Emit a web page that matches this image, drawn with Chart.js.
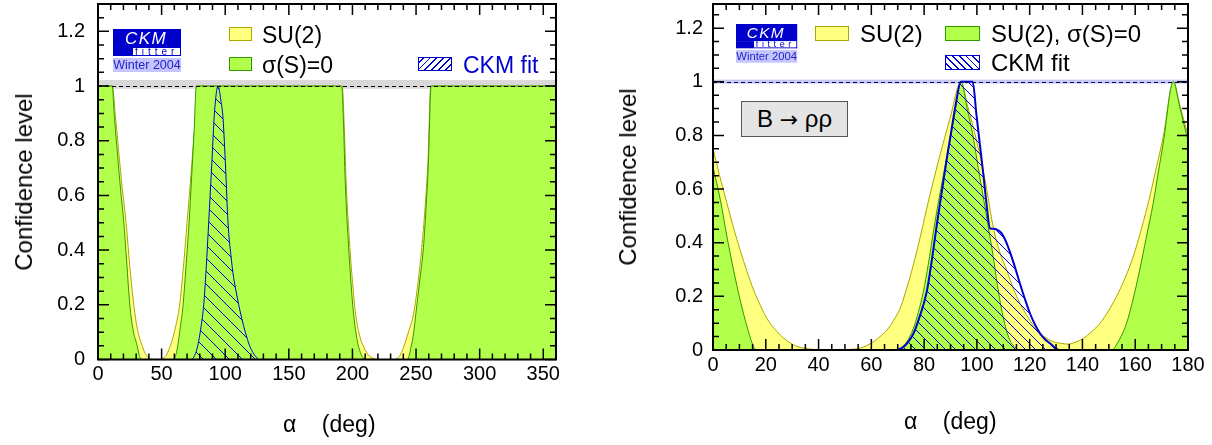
<!DOCTYPE html>
<html>
<head>
<meta charset="utf-8">
<script src="https://cdn.jsdelivr.net/npm/chart.js@4.4.1/dist/chart.umd.min.js"></script>
<style>
  body { margin: 0; background: #fff; font-family: "Liberation Sans", Arial, sans-serif; }
  #page { position: relative; width: 1212px; height: 445px; overflow: hidden; }
  canvas { position: absolute; top: 0; }
  .txt { position: absolute; white-space: pre; color: #000; line-height: 1; }
  .ytitle { position: absolute; font-size: 24px; white-space: nowrap; transform: translate(-50%, -50%) rotate(-90deg); }
  .sw { position: absolute; box-sizing: border-box; border-width: 1.5px; border-style: solid; }
  .yel { background: #ffff80; border-color: #a8a800; }
  .grn { background: #b2ff4c; border-color: #2f9900; }
  .hat { border-color: #0000cc; }
  .logo { position: absolute; width: 68px; transform-origin: 0 0; }
  .logo .ckm { height: 19px; background: #0000cc; color: #fff; font-style: italic; font-size: 17px; line-height: 20px; letter-spacing: 1.5px; padding-left: 12px; box-sizing: border-box; }
  .logo .fit { height: 8px; display: flex; }
  .logo .fit .fl { width: 20px; background: #0000cc; }
  .logo .fit .fr { flex: 1; box-sizing: border-box; border-right: 1.5px solid #0000cc; border-bottom: 1.5px solid #0000cc; color: #0000cc; font-size: 10px; line-height: 8px; letter-spacing: 4px; padding-left: 2px; white-space: nowrap; overflow: visible; }
  .logo .win { margin-top: 2px; height: 14px; background: #c4c4ff; color: #2424c8; font-size: 12.5px; line-height: 14px; text-align: center; }
  #rhoBox { position: absolute; left: 741px; top: 101px; width: 107px; height: 36px; box-sizing: border-box; background: #e4e4e4; border: 1.5px solid #555; font-size: 24px; line-height: 33px; text-align: center; }
  #rhoBox .arr { font-family: "DejaVu Sans", sans-serif; font-size: 22px; }
</style>
</head>
<body>
<div id="page">
  <canvas id="alphaAll" width="600" height="445" style="left:0"></canvas>
  <canvas id="alphaRhoRho" width="606" height="445" style="left:606px"></canvas>

  <!-- left panel decorations -->
  <div class="ytitle" style="left:24px; top:182px">Confidence level</div>
  <div class="txt" style="left:283px; top:413px; font-size:23px">α    (deg)</div>
  <div class="logo" style="left:113px; top:29px">
    <div class="ckm">CKM</div>
    <div class="fit"><div class="fl"></div><div class="fr">fitter</div></div>
    <div class="win">Winter 2004</div>
  </div>
  <div class="sw yel" style="left:229px; top:27px; width:23px; height:14px"></div>
  <div class="txt" style="left:262px; top:24px; font-size:23px">SU(2)</div>
  <div class="sw grn" style="left:229px; top:57px; width:23px; height:14px"></div>
  <div class="txt" style="left:262px; top:54px; font-size:23px">σ(S)=0</div>
  <div class="sw hat" style="left:418px; top:57px; width:34px; height:14px; background: repeating-linear-gradient(-45deg, #fff 0 3.5px, #0000cc 3.5px 4.8px)"></div>
  <div class="txt" style="left:463px; top:54px; font-size:23px; color:#0000cc">CKM fit</div>

  <!-- right panel decorations -->
  <div class="ytitle" style="left:628px; top:177px">Confidence level</div>
  <div class="txt" style="left:904px; top:410px; font-size:23px">α    (deg)</div>
  <div class="logo" style="left:736px; top:24px; transform: scale(0.9)">
    <div class="ckm">CKM</div>
    <div class="fit"><div class="fl"></div><div class="fr">fitter</div></div>
    <div class="win">Winter 2004</div>
  </div>
  <div class="sw yel" style="left:815px; top:26px; width:34px; height:15px"></div>
  <div class="txt" style="left:860px; top:22px; font-size:24px">SU(2)</div>
  <div class="sw grn" style="left:945px; top:26px; width:35px; height:15px"></div>
  <div class="txt" style="left:991px; top:22px; font-size:24px">SU(2), σ(S)=0</div>
  <div class="sw hat" style="left:945px; top:55px; width:35px; height:15px; background: repeating-linear-gradient(45deg, #fff 0 3.5px, #0000cc 3.5px 4.8px)"></div>
  <div class="txt" style="left:991px; top:51px; font-size:24px">CKM fit</div>
  <div id="rhoBox">B <span class="arr">→</span> ρρ</div>
</div>

<script>
// ---- left panel: alpha from all modes (0..360 deg) ----
var alphaSuL = [0, 11.3, 13.5, 16.3, 19.2, 22.1, 25, 28.1, 31, 34.7, 38, 41.2, 45.5, 48, 50.4, 53.5, 56.9, 60.5, 64.2, 67, 70, 73, 75.8, 78.4,
                192, 193.5, 195, 198, 200.3, 202.5, 205.5, 209, 213.5, 218, 222, 233, 235.5, 238, 240.1, 244, 248, 251.5, 254.5, 257, 259.3, 261.6, 360];
var clSuL    = [1, 1, 0.9, 0.76, 0.62, 0.5, 0.34, 0.2, 0.11, 0.05, 0.015, 0.002, 0, 0, 0.002, 0.015, 0.05, 0.11, 0.2, 0.33, 0.5, 0.67, 0.84, 1,
                1, 0.86, 0.655, 0.41, 0.27, 0.166, 0.09, 0.044, 0.012, 0.002, 0, 0, 0.005, 0.02, 0.044, 0.1, 0.166, 0.28, 0.41, 0.55, 0.72, 1, 1];

var alphaSigL = [0, 11.1, 13, 15.5, 18, 20.3, 22.5, 25, 27.5, 30.8, 32.2, 33.4, 35, 59.5, 60.8, 62.7, 64.5, 66.9, 69, 71.6, 73.5, 75.5, 77.3,
                 191.5, 193, 194.3, 197, 199, 200.9, 203, 205, 207.5, 210, 243, 244.3, 246, 248.2, 249.8, 252.7, 255.8, 257.8, 259.7, 261.8, 360];
var clSigL    = [1, 1, 0.88, 0.74, 0.61, 0.5, 0.36, 0.2, 0.11, 0.05, 0.02, 0.004, 0, 0, 0.01, 0.05, 0.11, 0.2, 0.33, 0.5, 0.66, 0.83, 1,
                 1, 0.86, 0.655, 0.41, 0.27, 0.166, 0.09, 0.044, 0.012, 0, 0, 0.01, 0.044, 0.1, 0.166, 0.28, 0.41, 0.55, 0.72, 1, 1];

var alphaFitL = [74, 76, 78.4, 81, 83.1, 85, 87, 89.5, 91.5, 94.4, 96.5, 98.3, 100.3, 102.2, 104.5, 106.6, 108.5, 110.6, 113, 115.8, 119.2, 122.5, 126.3];
var clFitL    = [0, 0.015, 0.05, 0.12, 0.2, 0.33, 0.5, 0.72, 0.9, 1, 0.95, 0.88, 0.7, 0.5, 0.38, 0.3, 0.25, 0.2, 0.15, 0.1, 0.05, 0.02, 0];

// ---- right panel: B -> rho rho (0..180 deg) ----
var alphaSuR = [0, 2.5, 5.3, 7.8, 10.3, 12.8, 15.4, 18, 20.4, 23, 25.5, 28, 30.5, 33, 35.6, 40, 45, 50, 53, 55.8, 58.3, 60.8, 63.3, 65.9, 68.4,
                70.9, 73.4, 75.9, 78.5, 81, 83.5, 86, 89.8, 94, 96.5, 99.9, 103.1, 106.2, 108.5, 111.3, 113.8, 116.3, 119.5, 122.6, 125.8,
                128.9, 131.8, 134.6, 137.5, 140.3, 143.5, 146.6, 149.8, 152.9, 156, 159.2, 162.3, 165.5, 168, 170.6, 174.5, 177, 180];
var clSuR    = [0.751, 0.65, 0.546, 0.455, 0.372, 0.295, 0.223, 0.165, 0.118, 0.083, 0.056, 0.035, 0.019, 0.01, 0.005, 0.001, 0, 0.001, 0.003, 0.007, 0.017, 0.031, 0.05, 0.074, 0.11,
                0.155, 0.23, 0.317, 0.42, 0.528, 0.63, 0.726, 0.863, 1, 0.91, 0.78, 0.633, 0.458, 0.37, 0.298, 0.23, 0.174, 0.12, 0.074, 0.048,
                0.031, 0.025, 0.022, 0.03, 0.043, 0.068, 0.099, 0.145, 0.199, 0.265, 0.347, 0.45, 0.571, 0.68, 0.794, 1, 0.91, 0.8];

var alphaSigR = [0, 2.8, 5.3, 7.8, 10.3, 12.9, 15.4, 16.5, 69.5, 70.9, 73.4, 75.9, 77.8, 79.7, 81.6, 83.5, 85.4, 87.3, 89.2, 91.1, 94,
                 96.3, 98.6, 100.5, 102.4, 104.3, 106.2, 107.8, 109.4, 111, 112.5, 114.4, 116.3, 151, 153.5, 156.7, 159.2, 161.7, 164.2,
                 166.8, 168.7, 170.6, 174.4, 177, 180];
var clSigR    = [0.683, 0.559, 0.422, 0.298, 0.186, 0.087, 0.012, 0, 0, 0.006, 0.03, 0.08, 0.14, 0.217, 0.32, 0.44, 0.55, 0.652, 0.75, 0.85, 1,
                 0.9, 0.794, 0.68, 0.571, 0.46, 0.347, 0.24, 0.149, 0.08, 0.037, 0.01, 0, 0, 0.03, 0.099, 0.19, 0.298, 0.42,
                 0.546, 0.66, 0.77, 1, 0.9, 0.78];

var alphaFitR = [69.6, 72, 74, 75.9, 78.5, 81, 83, 84.8, 86.7, 88.6, 90.2, 91.7, 94, 98.4, 99.8, 101.2, 102.5, 103.7, 105, 106.2, 107.8,
                 109.4, 111, 112.5, 114.4, 116.3, 118.2, 120.1, 122, 123.9, 125.8, 127.7, 129.6, 131];
var clFitR    = [0, 0.01, 0.03, 0.06, 0.13, 0.217, 0.34, 0.466, 0.59, 0.714, 0.81, 0.9, 1, 1, 0.88, 0.76, 0.65, 0.54, 0.453, 0.452, 0.448,
                 0.435, 0.405, 0.366, 0.31, 0.248, 0.19, 0.137, 0.095, 0.062, 0.04, 0.025, 0.008, 0];

// tick labels
var xTicksL = [0, 50, 100, 150, 200, 250, 300, 350];
var xTicksR = [0, 20, 40, 60, 80, 100, 120, 140, 160, 180];
var yTicks = [0, 0.2, 0.4, 0.6, 0.8, 1, 1.2];

var yellowFill = '#ffff80', yellowLine = '#a8a800';
var greenFill = '#b2ff4c', greenLine = '#2f9900';
var fitBlue = '#0000d0';

function pts(xs, ys) {
  return xs.map(function(x, i) { return { x: x, y: ys[i] }; });
}

function hatch(size, color) {
  var c = document.createElement('canvas');
  c.width = c.height = size;
  var g = c.getContext('2d');
  g.strokeStyle = color;
  g.lineWidth = 1;
  g.beginPath();
  g.moveTo(-1, -1); g.lineTo(size + 1, size + 1);
  g.moveTo(-1, size - 1); g.lineTo(1, size + 1);
  g.moveTo(size - 1, -1); g.lineTo(size + 1, 1);
  g.stroke();
  return g.createPattern(c, 'repeat');
}

// ROOT style frame: band + dashed line at CL=1, inward ticks on all four sides
var rootFrame = {
  id: 'rootFrame',
  beforeDatasetsDraw: function(chart, args, o) {
    var ctx = chart.ctx, a = chart.chartArea, y = chart.scales.y;
    var yHi = y.getPixelForValue(o.band[1]), yLo = y.getPixelForValue(o.band[0]);
    ctx.save();
    ctx.fillStyle = o.bandColor;
    ctx.fillRect(a.left, yHi, a.right - a.left, yLo - yHi);
    ctx.restore();
  },
  afterDatasetsDraw: function(chart, args, o) {
    var ctx = chart.ctx, a = chart.chartArea, x = chart.scales.x, y = chart.scales.y;
    ctx.save();
    var y1 = Math.round(y.getPixelForValue(1)) + 0.5;
    ctx.strokeStyle = o.dashColor;
    ctx.lineWidth = 1;
    ctx.setLineDash([4, 3]);
    ctx.beginPath(); ctx.moveTo(a.left, y1); ctx.lineTo(a.right, y1); ctx.stroke();
    ctx.setLineDash([]);

    ctx.strokeStyle = '#000';
    ctx.lineWidth = 1.5;
    ctx.beginPath();
    var n = Math.round((x.max - x.min) / o.xMinor), i, v, p, len;
    for (i = 0; i <= n; i++) {
      v = x.min + i * o.xMinor;
      p = x.getPixelForValue(v);
      len = (Math.round(v / o.xMinor) % o.xPer === 0) ? 11 : 6;
      ctx.moveTo(p, a.bottom); ctx.lineTo(p, a.bottom - len);
      ctx.moveTo(p, a.top); ctx.lineTo(p, a.top + len);
    }
    n = Math.floor((y.max - y.min) / 0.05 + 1e-6);
    for (i = 0; i <= n; i++) {
      v = i * 0.05;
      p = y.getPixelForValue(v);
      len = (i % 4 === 0) ? 11 : 6;
      ctx.moveTo(a.left, p); ctx.lineTo(a.left + len, p);
      ctx.moveTo(a.right, p); ctx.lineTo(a.right - len, p);
    }
    ctx.stroke();
    ctx.lineWidth = 2;
    ctx.strokeRect(a.left, a.top, a.right - a.left, a.bottom - a.top);
    ctx.restore();
  }
};

function makeChart(id, cfg) {
  var ctx = document.getElementById(id).getContext('2d');
  var tickFont = { family: '"Liberation Sans", Arial, sans-serif', size: 20 };
  return new Chart(ctx, {
    type: 'line',
    data: {
      datasets: [{
        data: pts(cfg.su[0], cfg.su[1]),
        borderColor: yellowLine, backgroundColor: yellowFill, borderWidth: 1,
        fill: 'origin', order: 3
      }, {
        data: pts(cfg.sig[0], cfg.sig[1]),
        borderColor: greenLine, backgroundColor: greenFill, borderWidth: 1,
        fill: 'origin', order: 2
      }, {
        data: pts(cfg.fit[0], cfg.fit[1]),
        borderColor: fitBlue, backgroundColor: hatch(cfg.hatchSize, fitBlue), borderWidth: cfg.fitWidth,
        fill: 'origin', order: 1
      }]
    },
    options: {
      responsive: false,
      animation: false,
      layout: { padding: cfg.padding },
      elements: {
        point: { radius: 0 },
        line: { cubicInterpolationMode: 'monotone' }
      },
      plugins: {
        legend: { display: false },
        tooltip: { enabled: false },
        rootFrame: cfg.frame
      },
      scales: {
        x: {
          type: 'linear', min: 0, max: cfg.xMax,
          grid: { display: false, drawTicks: false },
          border: { display: false },
          afterBuildTicks: function(s) { s.ticks = cfg.xTicks.map(function(v) { return { value: v }; }); },
          afterFit: function(s) { s.height = cfg.xAxisHeight; s.paddingLeft = 0; s.paddingRight = 0; },
          ticks: { color: '#000', font: tickFont, padding: 3, maxRotation: 0, autoSkip: false,
                   callback: function(v) { return String(v); } }
        },
        y: {
          type: 'linear', min: 0, max: cfg.yMax,
          grid: { display: false, drawTicks: false },
          border: { display: false },
          afterBuildTicks: function(s) { s.ticks = yTicks.map(function(v) { return { value: v }; }); },
          afterFit: function(s) { s.width = cfg.yAxisWidth; s.paddingTop = 0; s.paddingBottom = 0; },
          ticks: { color: '#000', font: tickFont, padding: cfg.yPad, autoSkip: false,
                   callback: function(v) { return String(v); } }
        }
      }
    },
    plugins: [rootFrame]
  });
}

makeChart('alphaAll', {
  su: [alphaSuL, clSuL], sig: [alphaSigL, clSigL], fit: [alphaFitL, clFitL],
  xMax: 360, yMax: 1.3, xTicks: xTicksL,
  padding: { top: 4, right: 44, bottom: 0, left: 0 },
  xAxisHeight: 85.5, yAxisWidth: 98, yPad: 13,
  hatchSize: 13, fitWidth: 1,
  frame: { band: [0.99, 1.022], bandColor: '#d9d9d9', dashColor: '#000', xMinor: 10, xPer: 5 }
});

makeChart('alphaRhoRho', {
  su: [alphaSuR, clSuR], sig: [alphaSigR, clSigR], fit: [alphaFitR, clFitR],
  xMax: 180, yMax: 1.29, xTicks: xTicksR,
  padding: { top: 4, right: 24, bottom: 0, left: 0 },
  xAxisHeight: 95, yAxisWidth: 107, yPad: 10,
  hatchSize: 10, fitWidth: 2,
  frame: { band: [0.993, 1.008], bandColor: '#c8c8f5', dashColor: '#000050', xMinor: 5, xPer: 4 }
});
</script>
</body>
</html>
